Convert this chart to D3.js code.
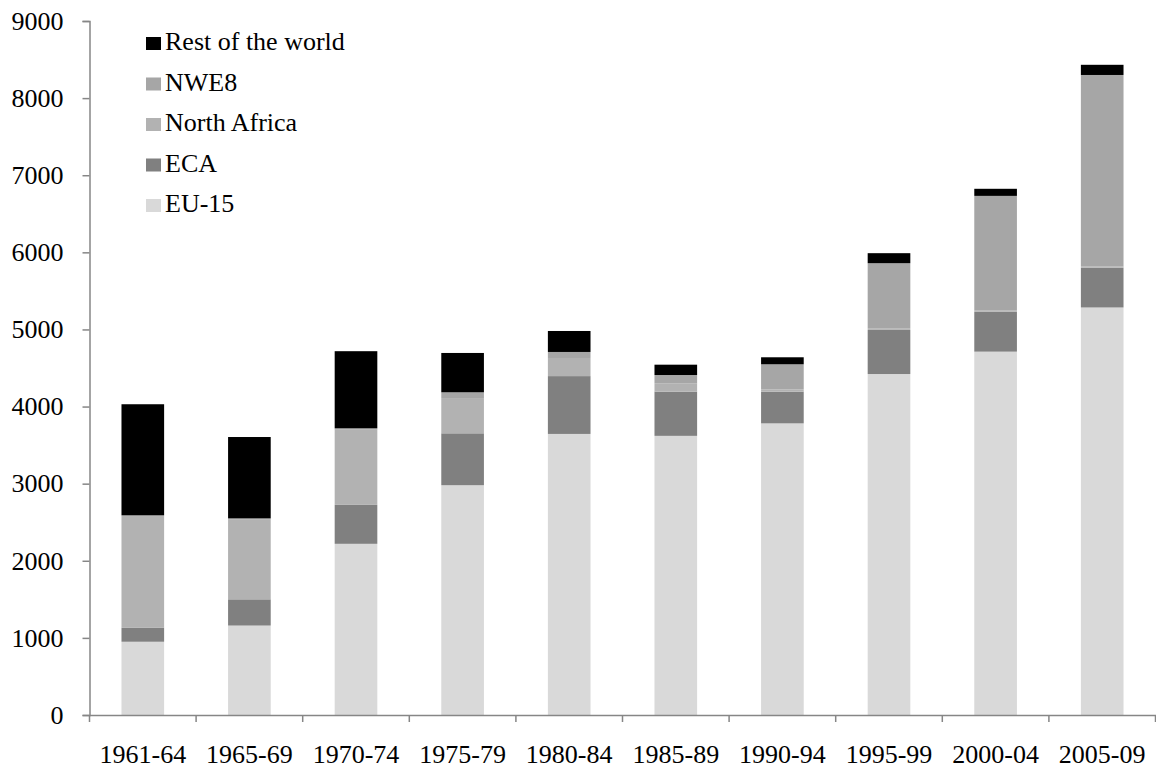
<!DOCTYPE html>
<html>
<head>
<meta charset="utf-8">
<script src="https://cdn.jsdelivr.net/npm/d3@7"></script>
<style>
  body { margin: 0; background: #fff; }
  text { font-family: "Liberation Serif", "Times New Roman", serif; fill: #000; }
</style>
</head>
<body>
<svg id="chart" width="1156" height="771"></svg>
<script>
// periods on the x axis
var periods = ["1961-64", "1965-69", "1970-74", "1975-79", "1980-84", "1985-89", "1990-94", "1995-99", "2000-04", "2005-09"];

// series values
var eu15        = [950, 1160, 2220, 2980, 3645, 3620, 3782, 4422, 4712, 5285];
var eca         = [180, 340, 505, 673, 750, 574, 411, 572, 517, 515];
var northAfrica = [1450, 1040, 975, 457, 235, 108, 30, 22, 15, 15];
var nwe8        = [10, 10, 18, 75, 78, 107, 325, 843, 1488, 2485];
var restWorld   = [1440, 1055, 1000, 510, 272, 134, 91, 130, 92, 132];

var yTicks = [0, 1000, 2000, 3000, 4000, 5000, 6000, 7000, 8000, 9000];

var seriesKeys = ["EU-15", "ECA", "North Africa", "NWE8", "Rest of the world"];
var seriesColors = ["#d9d9d9", "#808080", "#b2b2b2", "#a6a6a6", "#000000"];

var rows = periods.map(function (p, i) {
    return {
        period: p,
        "EU-15": eu15[i],
        "ECA": eca[i],
        "North Africa": northAfrica[i],
        "NWE8": nwe8[i],
        "Rest of the world": restWorld[i]
    };
});

var svg = d3.select("#chart");

var x = d3.scaleBand().domain(periods).range([89.5, 1155.5]).padding(0);
var y = d3.scaleLinear().domain([0, 9000]).range([715, 21]);
var color = d3.scaleOrdinal().domain(seriesKeys).range(seriesColors);

var stacked = d3.stack().keys(seriesKeys)(rows);
var barW = x.bandwidth() * 0.4;

svg.append("g")
    .selectAll("g")
    .data(stacked)
    .enter()
    .append("g")
    .attr("fill", function (d) { return color(d.key); })
    .selectAll("rect")
    .data(function (d) { return d; })
    .enter()
    .append("rect")
    .attr("x", function (d) { return x(d.data.period) + (x.bandwidth() - barW) / 2; })
    .attr("width", barW)
    .attr("y", function (d) { return y(d[1]); })
    .attr("height", function (d) { return y(d[0]) - y(d[1]); });

// y axis
var yAxis = svg.append("g")
    .attr("transform", "translate(89.5,0)")
    .call(d3.axisLeft(y).tickValues(yTicks).tickSize(7).tickSizeOuter(7).tickFormat(d3.format("d")));
yAxis.selectAll("path, line").attr("stroke", "#868686").attr("stroke-width", 1.5);
yAxis.selectAll("text")
    .attr("x", -26)
    .attr("font-size", 26)
    .attr("font-family", "Liberation Serif, Times New Roman, serif")
    .attr("fill", "#000");

// x axis
var xAxis = svg.append("g")
    .attr("transform", "translate(0,715)")
    .call(d3.axisBottom(x).tickSize(0).tickSizeOuter(0));
xAxis.select(".domain").attr("stroke", "#868686").attr("stroke-width", 1.5);
xAxis.selectAll("text")
    .attr("y", 30)
    .attr("dy", "0.71em")
    .attr("font-size", 26)
    .attr("font-family", "Liberation Serif, Times New Roman, serif")
    .attr("fill", "#000");

// category separators on x axis
var sepPositions = periods.map(function (p) { return x(p); }).concat([x(periods[periods.length - 1]) + x.bandwidth()]);
xAxis.selectAll("line.sep")
    .data(sepPositions)
    .enter()
    .append("line")
    .attr("class", "sep")
    .attr("x1", function (d) { return d; })
    .attr("x2", function (d) { return d; })
    .attr("y1", 0)
    .attr("y2", 7)
    .attr("stroke", "#868686")
    .attr("stroke-width", 1.5);

// legend, top to bottom reversed from stacking order
var legendKeys = seriesKeys.slice().reverse();
var legend = svg.append("g").attr("transform", "translate(146,0)");
legendKeys.forEach(function (k, i) {
    var base = 50 + i * 40.5;
    legend.append("rect")
        .attr("x", 0)
        .attr("y", base - 13)
        .attr("width", 15)
        .attr("height", 13)
        .attr("fill", color(k));
    legend.append("text")
        .attr("x", 19)
        .attr("y", base)
        .attr("font-size", 26)
        .text(k);
});
</script>
</body>
</html>
